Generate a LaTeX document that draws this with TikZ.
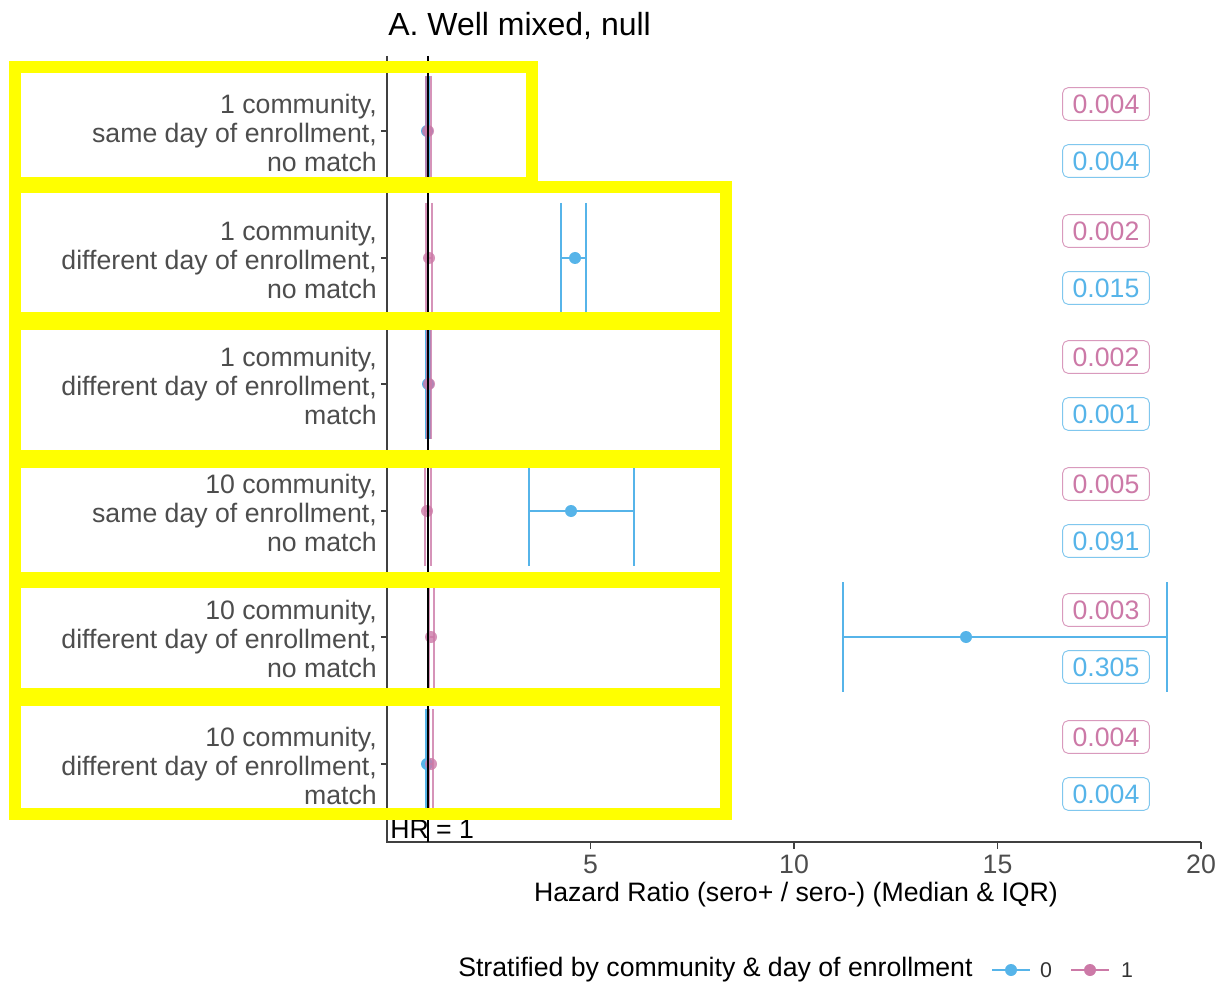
\documentclass[tikz,border=0pt]{standalone}
\usepackage{fontspec}
\setmainfont{Liberation Sans}
\usetikzlibrary{positioning}
\definecolor{hrblue}{HTML}{56B4E9}
\definecolor{hrpink}{HTML}{CC79A7}
\definecolor{hrgray}{HTML}{4D4D4D}
\definecolor{hryellow}{HTML}{FFFF00}
\tikzset{
  hrrowlab/.style={
    anchor=east, align=right, text=hrgray, inner sep=0pt,
    font=\fontsize{20}{21.75}\selectfont
  },
  hrvalue/.style={
    draw=#1!75, text=#1, fill=white, rounded corners=4pt, line width=0.7pt,
    minimum width=65pt, minimum height=24.5pt, inner sep=0pt,
    font=\fontsize{20}{24}\selectfont
  },
  hrbar/.style={line width=2pt},
  hrdot/.style={circle, inner sep=0pt, minimum size=9pt},
  hraxis/.style={line width=1.1pt, draw=black!75},
  hrticklab/.style={font=\fontsize{20}{24}\selectfont, text=hrgray},
  hrtext/.style={font=\fontsize{20}{24}\selectfont},
  hrmark/.style={draw=hryellow, line width=9.5pt}
}
% error bar: colour, row centre, low, median, high, name of the point
\newcommand{\hrerr}[6]{%
  \draw[hrbar,#1] (#3,#2-55) -- (#3,#2+55);
  \draw[hrbar,#1] (#5,#2-55) -- (#5,#2+55);
  \draw[hrbar,#1] (#3,#2) -- (#5,#2);
  \node[hrdot,fill=#1] (#6) at (#4,#2) {};
}
\begin{document}
\begin{tikzpicture}[x=0.75pt,y=-0.75pt]
  \useasboundingbox (0,0) rectangle (1230,994);

  % Title
  \node[anchor=base west,inner sep=0pt,font=\fontsize{24}{28}\selectfont] (title) at (388,36) {A. Well mixed, null};

  % Axes
  \draw[hraxis] (387,56) -- (387,842) -- (1201,842);
  \foreach \v in {5,10,15,20} {
    \draw[hraxis] ({387+40.7*\v},842) -- ({387+40.7*\v},849);
    \node[hrticklab] (tick\v) at ({387+40.7*\v},864) {\v};
  }
  \node[hrtext] (xtitle) at (796,895) {Hazard Ratio (sero+ / sero-) (Median \& IQR)};

  % Row labels and values
  \foreach \yc/\txt/\pv/\bv [count=\i] in {
    131/{1 community,\\same day of enrollment,\\no match}/0.004/0.004,
    258/{1 community,\\different day of enrollment,\\no match}/0.002/0.015,
    384/{1 community,\\different day of enrollment,\\match}/0.002/0.001,
    511/{10 community,\\same day of enrollment,\\no match}/0.005/0.091,
    637/{10 community,\\different day of enrollment,\\no match}/0.003/0.305,
    764/{10 community,\\different day of enrollment,\\match}/0.004/0.004} {
    \draw[hraxis] (381,\yc) -- (387,\yc);
    \node[hrrowlab] (row\i) at (377,\yc+2) {\txt};
    \node[hrvalue=hrpink] (pv\i) at (1106,\yc-27) {\pv};
    \node[hrvalue=hrblue] (bv\i) at (1106,\yc+30) {\bv};
  }

  % Stratified = 0
  \hrerr{hrblue}{131}{426}{427}{429}{b1}
  \hrerr{hrblue}{258}{561}{575}{586}{b2}
  \hrerr{hrblue}{384}{426}{428}{430}{b3}
  \hrerr{hrblue}{511}{529}{571}{634}{b4}
  \hrerr{hrblue}{637}{843}{966}{1167}{b5}
  \hrerr{hrblue}{764}{426}{427}{428}{b6}

  % Stratified = 1
  \begin{scope}[opacity=0.8]
    \hrerr{hrpink}{131}{426}{428}{431}{p1}
    \hrerr{hrpink}{258}{426}{429}{432}{p2}
    \hrerr{hrpink}{384}{427}{429}{431}{p3}
    \hrerr{hrpink}{511}{425}{427}{431}{p4}
    \hrerr{hrpink}{637}{429}{431}{434}{p5}
    \hrerr{hrpink}{764}{429}{431}{433}{p6}
  \end{scope}

  % HR = 1
  \draw[line width=1.2pt] (428,56) -- (428,842);
  \node[hrtext,anchor=base west,inner sep=0pt] (hrone) at (390,838) {HR = 1};

  % Legend
  \node[hrtext,anchor=west,inner sep=0pt] (legtitle) at (458,970) {Stratified by community \& day of enrollment};
  \draw[hrbar,hrblue] (992,970) -- (1030,970);
  \node[hrdot,fill=hrblue] (legb) at (1011,970) {};
  \node[font=\fontsize{16}{19}\selectfont,text=black!80] (leg0) at (1046,970) {0};
  \draw[hrbar,hrpink] (1071,970) -- (1109,970);
  \node[hrdot,fill=hrpink] (legp) at (1090,970) {};
  \node[font=\fontsize{16}{19}\selectfont,text=black!80] (leg1) at (1127,970) {1};

  % Highlight boxes
  \draw[hrmark] (15,67) rectangle (532,183);
  \draw[hrmark] (15,187) rectangle (726,318);
  \draw[hrmark] (15,324) rectangle (726,456);
  \draw[hrmark] (15,462) rectangle (726,578);
  \draw[hrmark] (15,582) rectangle (726,694);
  \draw[hrmark] (15,700) rectangle (726,814);
\end{tikzpicture}
\end{document}
